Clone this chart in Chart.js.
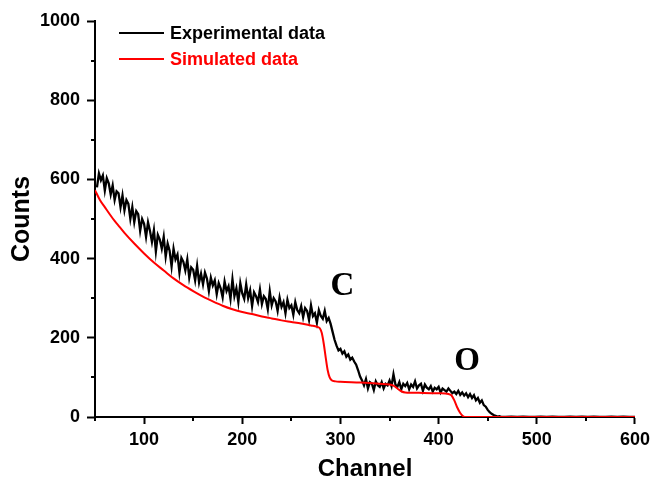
<!DOCTYPE html>
<html><head><meta charset="utf-8">
<script src="https://cdn.jsdelivr.net/npm/chart.js@4"></script>
<style>html,body{margin:0;padding:0;background:#fff;}canvas{display:block;}</style>
</head><body>
<canvas id="c" width="655" height="488"></canvas>
<script>
const expChannels = [52,54,56,58,60,62,64,66,68,70,72,74,76,78,80,82,84,86,88,90,
92,94,96,98,100,102,104,106,108,110,112,114,116,118,120,122,124,126,128,130,
132,134,136,138,140,142,144,146,148,150,152,154,156,158,160,162,164,166,168,170,
172,174,176,178,180,182,184,186,188,190,192,194,196,198,200,202,204,206,208,210,
212,214,216,218,220,222,224,226,228,230,232,234,236,238,240,242,244,246,248,250,
252,254,256,258,260,262,264,266,268,270,272,274,276,278,280,282,284,286,288,290,
292,294,296,298,300,302,304,306,308,310,312,314,316,318,320,322,324,326,328,330,
332,334,336,338,340,342,344,346,348,350,352,354,356,358,360,362,364,366,368,370,
372,374,376,378,380,382,384,386,388,390,392,394,396,398,400,402,404,406,408,410,
412,414,416,418,420,422,424,426,428,430,432,434,436,438,440,442,444,446,448,450,
452,454,456,458,460,462,464,
468,474,480,486,492,498,504,510,516,522,528,534,540,546,552,558,564,570,576,582,588,594,600];
const expCounts = [580,615,598,610,572,603,590,562,585,548,570,565,530,560,522,548,538,500,530,492,
520,512,470,500,488,455,492,470,442,472,418,460,448,425,455,405,438,420,380,425,
398,410,365,402,392,370,398,352,378,372,345,382,340,362,335,365,350,318,352,332,
345,310,338,325,302,342,318,330,298,348,305,325,290,338,312,298,335,300,320,280,
315,305,290,322,285,305,298,272,318,282,300,292,268,302,278,290,262,296,275,282,
258,290,270,262,280,252,275,268,245,282,255,262,238,270,255,248,268,242,250,235,
215,195,180,168,172,160,166,152,158,145,150,140,132,118,102,92,80,96,72,88,
84,68,90,80,76,88,72,84,80,92,78,108,82,76,88,70,84,78,86,70,
82,76,90,72,80,84,66,82,74,70,78,64,74,70,76,62,72,68,64,72,
66,60,64,58,66,56,62,54,60,50,58,48,55,42,48,36,42,30,26,18,
12,8,5,3,1,2,0,
0,1,0,1,0,0,1,0,1,0,0,1,0,1,0,1,0,0,1,0,1,0,0];
const simChannels = [50,55,60,65,70,75,80,90,100,110,120,130,140,150,160,170,180,190,200,210,
220,230,240,250,260,270,276,279,281,283,285,287,289,291,295,300,320,340,350,354,
358,362,366,380,400,410,413,416,419,422,425,428,500,600];
const simCounts = [573,548,530,512,495,480,465,438,413,390,370,350,333,318,304,292,281,272,265,260,
254,249,244,240,236,231,228,224,212,185,150,118,100,93,90,89,87,84,82,79,
72,65,62,61,60,58,55,42,24,10,2,0,0,0];
const seriesNames = ['Experimental data', 'Simulated data'];
const seriesColors = ['#000000', '#ff0000'];
const xTickLabels = [100, 200, 300, 400, 500, 600];
const yTickLabels = [0, 200, 400, 600, 800, 1000];
const peakLabels = ['C', 'O'];
const peakChannels = [302, 429];
const peakCounts = [331, 144];

const FONT = "'Liberation Sans', Arial, sans-serif";
const pts = (xs, ys) => xs.map((x, i) => ({x: x, y: ys[i]}));

const extras = {
  id: 'extras',
  afterDraw(chart) {
    const ctx = chart.ctx, xs = chart.scales.x, ys = chart.scales.y, a = chart.chartArea;
    ctx.save();
    ctx.strokeStyle = '#000';
    ctx.lineWidth = 2;
    const xMinor = [50, 150, 250, 350, 450, 550];
    xMinor.forEach(v => { const p = Math.round(xs.getPixelForValue(v)); ctx.beginPath(); ctx.moveTo(p, a.bottom); ctx.lineTo(p, a.bottom + 4); ctx.stroke(); });
    const yMinor = [100, 300, 500, 700, 900];
    yMinor.forEach(v => { const p = Math.round(ys.getPixelForValue(v)); ctx.beginPath(); ctx.moveTo(a.left, p); ctx.lineTo(a.left - 4, p); ctx.stroke(); });
    ctx.font = 'bold 18px ' + FONT;
    ctx.textBaseline = 'middle';
    ctx.textAlign = 'left';
    seriesNames.forEach((n, i) => {
      const y = a.top + 12 + i * 26;
      ctx.strokeStyle = seriesColors[i];
      ctx.beginPath(); ctx.moveTo(a.left + 24, y); ctx.lineTo(a.left + 69, y); ctx.stroke();
      ctx.fillStyle = seriesColors[i];
      ctx.fillText(n, a.left + 75, y + 1);
    });
    ctx.font = "bold 33px 'Liberation Serif', 'Times New Roman', serif";
    ctx.fillStyle = '#000';
    ctx.textAlign = 'center';
    ctx.textBaseline = 'middle';
    peakLabels.forEach((t, i) => {
      ctx.fillText(t, xs.getPixelForValue(peakChannels[i]), ys.getPixelForValue(peakCounts[i]) + 1);
    });
    ctx.restore();
  }
};

new Chart(document.getElementById('c'), {
  type: 'line',
  data: {
    datasets: [
      {label: seriesNames[1], data: pts(simChannels, simCounts), borderColor: seriesColors[1], borderWidth: 2, pointRadius: 0, cubicInterpolationMode: 'monotone', fill: false},
      {label: seriesNames[0], data: pts(expChannels, expCounts), borderColor: seriesColors[0], borderWidth: 2.3, pointRadius: 0, tension: 0, fill: false}
    ]
  },
  options: {
    responsive: false,
    animation: false,
    devicePixelRatio: 1,
    layout: {padding: {top: 21, right: 17, left: 0, bottom: 0}},
    plugins: {legend: {display: false}, tooltip: {enabled: false}},
    scales: {
      x: {
        type: 'linear', min: 50, max: 600,
        afterFit(s) { s.height = 71; },
        border: {display: true, color: '#000', width: 2},
        grid: {drawOnChartArea: false, drawTicks: true, tickLength: 7, tickWidth: 2,
          tickColor: c => (c.tick && xTickLabels.includes(c.tick.value)) ? '#000' : 'rgba(0,0,0,0)'},
        ticks: {stepSize: 50, autoSkip: false, maxRotation: 0, padding: 5, color: '#000',
          font: {family: FONT, size: 18, weight: 'bold'},
          callback: v => xTickLabels.includes(v) ? String(v) : ''},
        title: {display: true, text: 'Channel', color: '#000', font: {family: FONT, size: 24, weight: 'bold'}, padding: {top: 0, bottom: 4}}
      },
      y: {
        type: 'linear', min: 0, max: 1000,
        afterFit(s) { s.width = 95; },
        border: {display: true, color: '#000', width: 2},
        grid: {drawOnChartArea: false, drawTicks: true, tickLength: 8, tickWidth: 2,
          tickColor: c => (c.tick && yTickLabels.includes(c.tick.value)) ? '#000' : 'rgba(0,0,0,0)'},
        ticks: {stepSize: 100, autoSkip: false, padding: 7, color: '#000',
          font: {family: FONT, size: 18, weight: 'bold'},
          callback: v => yTickLabels.includes(v) ? String(v) : ''},
        title: {display: true, text: 'Counts', color: '#000', font: {family: FONT, size: 25, weight: 'bold'}, padding: {top: 7, bottom: 0}}
      }
    }
  },
  plugins: [extras]
});
</script>
</body></html>
